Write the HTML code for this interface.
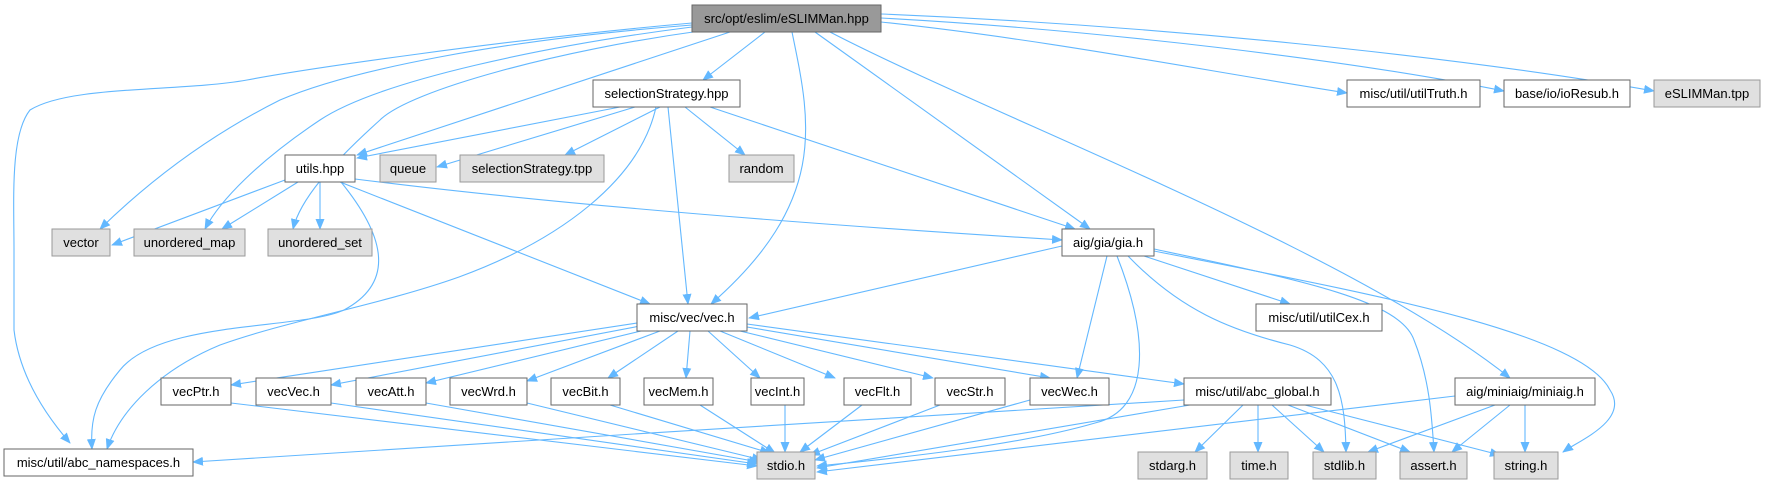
<!DOCTYPE html>
<html><head><meta charset="utf-8"><style>
html,body{margin:0;padding:0;background:#fff;}
svg{display:block;}
text{font-family:"Liberation Sans",Arial,sans-serif;font-size:13px;fill:#000;text-anchor:middle;}
.e{fill:none;stroke:#63b8ff;stroke-width:1.1;marker-end:url(#a);}
.w{fill:#fff;stroke:#666;stroke-width:1;}
.g{fill:#e0e0e0;stroke:#999;stroke-width:1;}
.r{fill:#999;stroke:#666;stroke-width:1;}
</style></head><body>
<svg width="1766" height="485" viewBox="0 0 1766 485" xmlns="http://www.w3.org/2000/svg">
<defs><marker id="a" markerWidth="11" markerHeight="9" refX="10" refY="4.5" orient="auto" markerUnits="userSpaceOnUse"><path d="M0,0 L11,4.5 L0,9 z" fill="#63b8ff"/></marker></defs>
<!-- edges from root -->
<path class="e" d="M692,23 C500,40 300,70 247,80 C180,92 70,85 30,110 C10,135 14,200 14,250 L14,330 C20,380 50,420 70,443"/>
<path class="e" d="M692,25 C500,40 350,70 280,100 C200,140 140,190 100,229"/>
<path class="e" d="M692,27 C550,45 380,80 320,120 C260,160 220,200 205,229"/>
<path class="e" d="M700,31 C560,50 410,90 380,120 C330,165 300,200 293,229"/>
<path class="e" d="M730,32 L357,155"/>
<path class="e" d="M765,32 L703,80"/>
<path class="e" d="M792,32 C810,120 830,200 711,304"/>
<path class="e" d="M815,32 L1090,229"/>
<path class="e" d="M830,32 C1000,120 1350,250 1510,378"/>
<path class="e" d="M881,22 C1050,40 1200,70 1347,93"/>
<path class="e" d="M881,18 C1100,30 1350,60 1504,91"/>
<path class="e" d="M881,14 C1150,25 1450,55 1654,91"/>
<!-- from selectionStrategy -->
<path class="e" d="M620,107 L357,158"/>
<path class="e" d="M635,107 L437,167"/>
<path class="e" d="M660,107 L565,155"/>
<path class="e" d="M685,107 L745,155"/>
<path class="e" d="M656,107 C640,180 560,240 459,277 C380,305 290,320 220,345 C160,370 120,410 107,449"/>
<path class="e" d="M668,107 L688,304"/>
<path class="e" d="M710,107 L1075,229"/>
<!-- from utils -->
<path class="e" d="M285,180 L112,245"/>
<path class="e" d="M298,182 L222,229"/>
<path class="e" d="M320,182 L320,229"/>
<path class="e" d="M341,182 C380,230 400,280 344,310 C300,330 160,320 120,370 C95,400 90,420 92,449"/>
<path class="e" d="M340,182 L650,304"/>
<path class="e" d="M355,179 C600,210 900,230 1062,240"/>
<!-- from gia -->
<path class="e" d="M1062,246 L749,318"/>
<path class="e" d="M1107,256 L1077,378"/>
<path class="e" d="M1117,256 C1150,340 1150,410 1095,423 C1020,445 900,458 817,466"/>
<path class="e" d="M1128,256 C1180,310 1230,330 1290,345 C1340,360 1345,400 1346,452"/>
<path class="e" d="M1144,256 L1290,304"/>
<path class="e" d="M1154,249 C1300,280 1400,300 1414,340 C1430,380 1432,420 1434,452"/>
<path class="e" d="M1154,251 C1350,290 1580,330 1610,390 C1630,420 1580,440 1563,452"/>
<!-- from vec.h -->
<path class="e" d="M637,323 L231,385"/>
<path class="e" d="M640,326 L331,385"/>
<path class="e" d="M645,330 L426,383"/>
<path class="e" d="M660,331 L527,381"/>
<path class="e" d="M678,331 L608,378"/>
<path class="e" d="M690,331 L686,378"/>
<path class="e" d="M708,331 L760,378"/>
<path class="e" d="M720,331 L835,378"/>
<path class="e" d="M740,331 L933,378"/>
<path class="e" d="M747,327 L1050,378"/>
<path class="e" d="M747,324 L1184,384"/>
<!-- to stdio -->
<path class="e" d="M231,403 L757,466"/>
<path class="e" d="M331,403 L757,464"/>
<path class="e" d="M426,403 L759,462"/>
<path class="e" d="M527,403 L762,460"/>
<path class="e" d="M610,405 L770,453"/>
<path class="e" d="M700,405 L775,453"/>
<path class="e" d="M785,405 L785,452"/>
<path class="e" d="M862,405 L800,452"/>
<path class="e" d="M940,405 L810,455"/>
<path class="e" d="M1030,400 L815,460"/>
<path class="e" d="M1190,405 L817,468"/>
<path class="e" d="M1455,396 L817,472"/>
<!-- from abc_global -->
<path class="e" d="M1184,400 C900,420 500,440 193,462"/>
<path class="e" d="M1243,405 L1195,452"/>
<path class="e" d="M1258,405 L1258,452"/>
<path class="e" d="M1272,405 L1324,452"/>
<path class="e" d="M1288,405 L1410,452"/>
<path class="e" d="M1305,405 L1500,455"/>
<!-- from miniaig -->
<path class="e" d="M1495,405 L1368,452"/>
<path class="e" d="M1510,405 L1452,452"/>
<path class="e" d="M1525,405 L1525,452"/>
<!-- nodes -->
<rect class="r" x="692" y="5" width="189" height="27"/><text x="786.5" y="23">src/opt/eslim/eSLIMMan.hpp</text>
<rect class="w" x="593" y="80" width="147" height="27"/><text x="666.5" y="98">selectionStrategy.hpp</text>
<rect class="w" x="1347" y="80" width="133" height="27"/><text x="1413.5" y="98">misc/util/utilTruth.h</text>
<rect class="w" x="1504" y="80" width="126" height="27"/><text x="1567" y="98">base/io/ioResub.h</text>
<rect class="g" x="1654" y="80" width="106" height="27"/><text x="1707" y="98">eSLIMMan.tpp</text>
<rect class="w" x="285" y="155" width="70" height="27"/><text x="320" y="173">utils.hpp</text>
<rect class="g" x="380" y="155" width="56" height="27"/><text x="408" y="173">queue</text>
<rect class="g" x="460" y="155" width="144" height="27"/><text x="532" y="173">selectionStrategy.tpp</text>
<rect class="g" x="729" y="155" width="65" height="27"/><text x="761.5" y="173">random</text>
<rect class="g" x="52" y="229" width="58" height="27"/><text x="81" y="247">vector</text>
<rect class="g" x="134" y="229" width="111" height="27"/><text x="189.5" y="247">unordered_map</text>
<rect class="g" x="268" y="229" width="104" height="27"/><text x="320" y="247">unordered_set</text>
<rect class="w" x="1062" y="229" width="92" height="27"/><text x="1108" y="247">aig/gia/gia.h</text>
<rect class="w" x="637" y="304" width="110" height="27"/><text x="692" y="322">misc/vec/vec.h</text>
<rect class="w" x="1256" y="304" width="126" height="27"/><text x="1319" y="322">misc/util/utilCex.h</text>
<rect class="w" x="161" y="378" width="70" height="27"/><text x="196" y="396">vecPtr.h</text>
<rect class="w" x="256" y="378" width="75" height="27"/><text x="293.5" y="396">vecVec.h</text>
<rect class="w" x="356" y="378" width="70" height="27"/><text x="391" y="396">vecAtt.h</text>
<rect class="w" x="450" y="378" width="77" height="27"/><text x="488.5" y="396">vecWrd.h</text>
<rect class="w" x="551" y="378" width="69" height="27"/><text x="585.5" y="396">vecBit.h</text>
<rect class="w" x="644" y="378" width="69" height="27"/><text x="678.5" y="396">vecMem.h</text>
<rect class="w" x="751" y="378" width="53" height="27"/><text x="777.5" y="396">vecInt.h</text>
<rect class="w" x="844" y="378" width="67" height="27"/><text x="877.5" y="396">vecFlt.h</text>
<rect class="w" x="935" y="378" width="70" height="27"/><text x="970" y="396">vecStr.h</text>
<rect class="w" x="1030" y="378" width="79" height="27"/><text x="1069.5" y="396">vecWec.h</text>
<rect class="w" x="1184" y="378" width="147" height="27"/><text x="1257.5" y="396">misc/util/abc_global.h</text>
<rect class="w" x="1455" y="378" width="140" height="27"/><text x="1525" y="396">aig/miniaig/miniaig.h</text>
<rect class="w" x="4" y="449" width="189" height="27"/><text x="98.5" y="467">misc/util/abc_namespaces.h</text>
<rect class="g" x="757" y="452" width="58" height="27"/><text x="786" y="470">stdio.h</text>
<rect class="g" x="1138" y="452" width="69" height="27"/><text x="1172.5" y="470">stdarg.h</text>
<rect class="g" x="1230" y="452" width="58" height="27"/><text x="1259" y="470">time.h</text>
<rect class="g" x="1313" y="452" width="63" height="27"/><text x="1344.5" y="470">stdlib.h</text>
<rect class="g" x="1400" y="452" width="67" height="27"/><text x="1433.5" y="470">assert.h</text>
<rect class="g" x="1494" y="452" width="64" height="27"/><text x="1526" y="470">string.h</text>
</svg>
</body></html>
